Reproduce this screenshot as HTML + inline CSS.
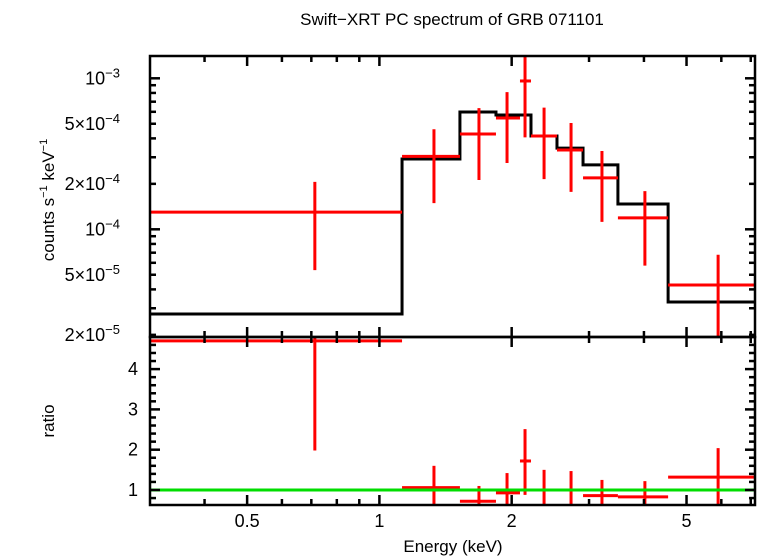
<!DOCTYPE html>
<html><head><meta charset="utf-8"><style>
body{margin:0;background:#fff}
svg{display:block;font-family:"Liberation Sans",sans-serif}
</style></head><body>
<svg id="chart" width="758" height="556" viewBox="0 0 758 556" xmlns="http://www.w3.org/2000/svg">
<rect width="758" height="556" fill="#fff"/>
<text x="452" y="25" font-size="17" text-anchor="middle">Swift−XRT PC spectrum of GRB 071101</text>
<text transform="translate(54,200) rotate(-90)" font-size="17" text-anchor="middle">counts s<tspan font-size="11" dy="-7">−1</tspan><tspan dy="7"> keV</tspan><tspan font-size="11" dy="-7">−1</tspan></text>
<text transform="translate(54,421) rotate(-90)" font-size="17" text-anchor="middle">ratio</text>
<text x="453" y="552" font-size="17" text-anchor="middle">Energy (keV)</text>
<g id="g"></g>
</svg>
<script>
// data
const binLo = [0.301, 1.126, 1.525, 1.842, 2.089, 2.213, 2.536, 2.907, 3.49, 4.54];
const binHi = [1.126, 1.525, 1.842, 2.089, 2.213, 2.536, 2.907, 3.49, 4.54, 7.16];
const binCenter = [0.713, 1.331, 1.685, 1.952, 2.145, 2.370, 2.73, 3.21, 4.02, 5.90];
const rate = [1.30e-4, 3.04e-4, 4.28e-4, 5.46e-4, 9.6e-4, 4.15e-4, 3.35e-4, 2.19e-4, 1.19e-4, 4.28e-5];
const rateHi = [2.06e-4, 4.6e-4, 6.35e-4, 8.1e-4, 1.42e-3, 6.4e-4, 5.06e-4, 3.3e-4, 1.79e-4, 6.78e-5];
const rateLo = [5.37e-5, 1.49e-4, 2.12e-4, 2.75e-4, 4.06e-4, 2.15e-4, 1.77e-4, 1.12e-4, 5.75e-5, 1.5e-5];
const model = [2.75e-5, 2.92e-4, 5.98e-4, 5.71e-4, 5.71e-4, 4.15e-4, 3.45e-4, 2.67e-4, 1.47e-4, 3.30e-5];
const ratio = [4.70, 1.06, 0.72, 0.93, 1.72, 1.0, 1.0, 0.86, 0.83, 1.32];
const ratioHi = [7, 1.6, 1.10, 1.42, 2.51, 1.5, 1.47, 1.25, 1.22, 2.04];
const ratioLo = [1.98, 0.3, 0.3, 0.3, 0.88, 0.3, 0.3, 0.3, 0.3, 0.3];
const topTickVals = [1e-3, 5e-4, 2e-4, 1e-4, 5e-5, 2e-5];
const topTickLabels = [["10","−3"],["5×10","−4"],["2×10","−4"],["10","−4"],["5×10","−5"],["2×10","−5"]];
const ratioTicks = [1, 2, 3, 4];
const xTickVals = [0.5, 1, 2, 5];
const xTickLabels = ["0.5", "1", "2", "5"];

const L=150,R=755,T=56,M=337,B=505;
const xs=e=>379.4+439.4*Math.log10(e);
const yt=v=>229.3-151*Math.log10(v/1e-4);
const yr=r=>490-40.3*(r-1);
const NS="http://www.w3.org/2000/svg";
const g=document.getElementById('g');
function mk(tag,attrs,parent){const e=document.createElementNS(NS,tag);for(const k in attrs)e.setAttribute(k,attrs[k]);(parent||g).appendChild(e);return e;}
const defs=mk('defs',{});
const c1=mk('clipPath',{id:'ct'},defs);mk('rect',{x:L,y:T,width:R-L,height:M-T},c1);
const c2=mk('clipPath',{id:'cb'},defs);mk('rect',{x:L,y:M,width:R-L,height:B-M},c2);
const topG=mk('g',{'clip-path':'url(#ct)'});


const bot=mk('g',{'clip-path':'url(#cb)'});


function line(x1,y1,x2,y2,col,w,p){return mk('line',{x1,y1,x2,y2,stroke:col,'stroke-width':w},p);}
// model step
let d='';
for(let i=0;i<model.length;i++){const y=yt(model[i]);d+=(i?'L':'M')+xs(binLo[i])+','+y+'L'+xs(binHi[i])+','+y;}
const mp=mk('path',{d,fill:'none',stroke:'#000','stroke-width':3},topG);


// data
for(let i=0;i<rate.length;i++){
 const gg=mk('g',{},topG);
 
 
 line(xs(binLo[i]),yt(rate[i]),xs(binHi[i]),yt(rate[i]),'#f00',3,gg);
 line(xs(binCenter[i]),yt(rateHi[i]),xs(binCenter[i]),yt(rateLo[i]),'#f00',3,gg);
 const gb=mk('g',{},bot);
 
 
 line(xs(binLo[i]),yr(ratio[i]),xs(binHi[i]),yr(ratio[i]),'#f00',3,gb);
 line(xs(binCenter[i]),yr(ratioHi[i]),xs(binCenter[i]),yr(ratioLo[i]),'#f00',3,gb);
}
const gl=line(L,yr(1),R,yr(1),'#0d0',3,bot);


// frames
const f1=mk('rect',{x:L,y:T,width:R-L,height:M-T,fill:'none',stroke:'#000','stroke-width':2.5});


const f2=mk('rect',{x:L,y:M,width:R-L,height:B-M,fill:'none',stroke:'#000','stroke-width':2.5});


// x ticks
const minorX=[0.4,0.6,0.7,0.8,0.9,3,4,6,7];
[[T,M],[M,B]].forEach(([a,b])=>{
 xTickVals.forEach(v=>{const x=xs(v);line(x,a,x,a+10,'#000',2.5);line(x,b,x,b-10,'#000',2.5);});
 minorX.forEach(v=>{const x=xs(v);line(x,a,x,a+6,'#000',2.5);line(x,b,x,b-6,'#000',2.5);});
});
xTickVals.forEach((v,i)=>{const t=mk('text',{x:xs(v),y:527,'font-size':18,'text-anchor':'middle'});t.textContent=xTickLabels[i];
 
 });
// top y ticks
for(let e=-5;e<=-3;e++)for(let m=1;m<10;m++){const v=m*Math.pow(10,e);const y=yt(v);if(y<T||y>M)continue;const len=m===1?10:6;line(L,y,L+len,y,'#000',2.5);line(R,y,R-len,y,'#000',2.5);}
topTickVals.forEach((v,i)=>{const t=mk('text',{x:120,y:yt(v)+6,'font-size':18,'text-anchor':'end'});
 
 
 t.textContent=topTickLabels[i][0];const s=mk('tspan',{'font-size':13,dy:-7},t);s.textContent=topTickLabels[i][1];});
// ratio ticks
for(let r=0.6;r<=4.7;r+=0.2){const y=yr(r);if(y<M||y>B)continue;const maj=Math.abs(r-Math.round(r))<0.01;const len=maj?10:6;line(L,y,L+len,y,'#000',2.5);line(R,y,R-len,y,'#000',2.5);}
ratioTicks.forEach(v=>{const t=mk('text',{x:138,y:yr(v)+6,'font-size':18,'text-anchor':'end'});t.textContent=v;
 
 });
</script>
</body></html>
